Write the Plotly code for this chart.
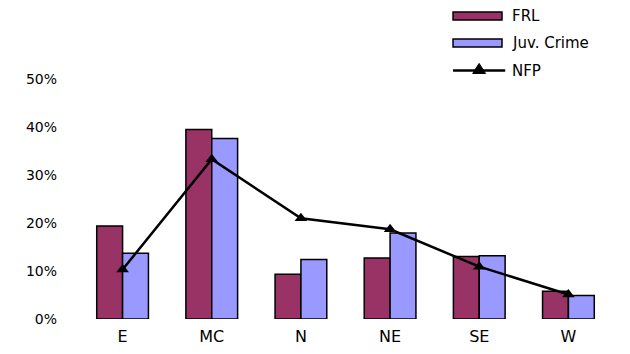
import plotly.graph_objects as go

categories = ["E", "MC", "N", "NE", "SE", "W"]
frl = [0.194, 0.395, 0.093, 0.127, 0.130, 0.058]
juv_crime = [0.137, 0.376, 0.124, 0.179, 0.132, 0.049]
nfp = [0.103, 0.333, 0.210, 0.187, 0.109, 0.051]
y_ticks = [0, 0.1, 0.2, 0.3, 0.4, 0.5]
series_names = ["FRL", "Juv. Crime", "NFP"]
bar_colors = ["#993366", "#9999FF"]

FONT = "DejaVu Sans, Liberation Sans, Arial"

fig = go.Figure()
fig.add_trace(go.Bar(x=categories, y=frl, name=series_names[0], showlegend=False,
                     marker=dict(color=bar_colors[0], line=dict(color="black", width=1.5))))
fig.add_trace(go.Bar(x=categories, y=juv_crime, name=series_names[1], showlegend=False,
                     marker=dict(color=bar_colors[1], line=dict(color="black", width=1.5))))
fig.add_trace(go.Scatter(x=categories, y=nfp, name=series_names[2], mode="lines+markers",
                         showlegend=False,
                         line=dict(color="black", width=2.5),
                         marker=dict(symbol="triangle-up", size=11, color="black")))

# Custom legend (wide swatches like the original), in paper coordinates
x0, x1, xt = 0.701, 0.7925, 0.808
rows_y = [1.2625, 1.15, 1.035]
hh = 0.017
for i in range(2):
    fig.add_shape(type="rect", xref="paper", yref="paper",
                  x0=x0, x1=x1, y0=rows_y[i] - hh, y1=rows_y[i] + hh,
                  fillcolor=bar_colors[i], line=dict(color="black", width=1.5))
fig.add_shape(type="line", xref="paper", yref="paper",
              x0=x0, x1=x1 + 0.006, y0=rows_y[2], y1=rows_y[2],
              line=dict(color="black", width=2.5))
xm = (x0 + x1 + 0.006) / 2
fig.add_shape(type="path", xref="paper", yref="paper",
              path=f"M {xm-0.012} {rows_y[2]-0.012} L {xm+0.012} {rows_y[2]-0.012} L {xm} {rows_y[2]+0.03} Z",
              fillcolor="black", line=dict(color="black", width=1))
for i, nm in enumerate(series_names):
    fig.add_annotation(xref="paper", yref="paper", x=xt, y=rows_y[i],
                       text=nm, showarrow=False, xanchor="left", yanchor="middle",
                       font=dict(family=FONT, size=15, color="black"))

fig.update_layout(
    width=630, height=354,
    margin=dict(l=78, r=17, t=79, b=35, autoexpand=False),
    paper_bgcolor="white", plot_bgcolor="white",
    barmode="group", bargap=0.42, bargroupgap=0,
    font=dict(family=FONT, size=15, color="black"),
    showlegend=False,
    xaxis=dict(showline=False, showgrid=False, ticks="",
               tickfont=dict(size=16), ticklabelstandoff=6),
    yaxis=dict(range=[0, 0.5], tickvals=y_ticks, tickformat=".0%",
               showgrid=False, showline=False, zeroline=False, ticks="",
               tickfont=dict(size=14), ticklabelstandoff=20),
)

fig.write_html("out.html", config={"displayModeBar": False},
               post_script="document.body.style.margin='0';document.body.style.overflow='hidden';")
